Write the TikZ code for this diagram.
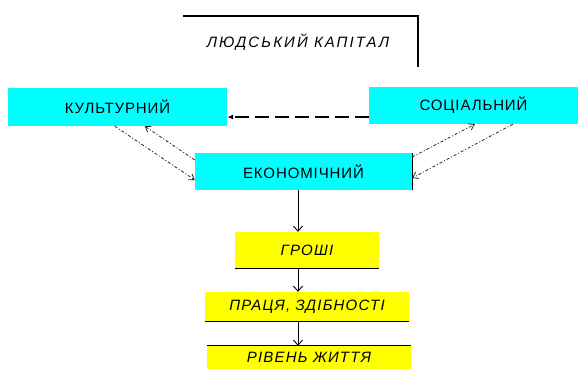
\documentclass[tikz,border=0pt]{standalone}
\usepackage{fontspec}
\setmainfont{Liberation Sans}
\usetikzlibrary{arrows.meta,calc}
\definecolor{boxcyan}{RGB}{0,255,255}
\definecolor{boxyellow}{RGB}{255,255,0}
\definecolor{linegray}{RGB}{40,40,40}
\begin{document}
\begin{tikzpicture}[x=1pt,y=-1pt,
  lbl/.style={font=\fontsize{15}{17}\selectfont\addfontfeature{LetterSpace=6}},
  cbox/.style={fill=boxcyan,draw=none,inner sep=0pt,lbl},
  ybox/.style={fill=boxyellow,draw=none,inner sep=0pt,font=\fontsize{15}{17}\selectfont\itshape\addfontfeature{LetterSpace=8}},
  down/.style={draw=black,line width=0.9pt,-{Straight Barb[length=5pt,width=9pt]}},
  dashconn/.style={draw=black,line width=1.1pt,dash pattern=on 14pt off 6pt,-{Latex[length=6pt,width=5pt]}},
  dotconn/.style={draw=linegray,line width=0.8pt,dash pattern=on 3pt off 2pt on 1pt off 2pt,-{Straight Barb[length=5pt,width=7pt]}},
  rule/.style={draw=black,line width=1.2pt}]
\useasboundingbox (0,0) rectangle (582,369);
% header
\coordinate (h1) at (183,16);
\coordinate (h2) at (418,16);
\coordinate (h3) at (418,67);
\draw[rule] (h1) -- (h2) -- (h3);
\node[font=\fontsize{15}{17}\selectfont\itshape\addfontfeature{LetterSpace=14}] (title) at (298,42) {ЛЮДСЬКИЙ КАПІТАЛ};
% boxes
\node[cbox,minimum width=219pt,minimum height=38pt] (kul) at (117.5,107) {КУЛЬТУРНИЙ};
\node[cbox,minimum width=209pt,minimum height=37pt] (soc) at (473.5,105.5) {СОЦІАЛЬНИЙ};
\node[cbox,minimum width=217pt,minimum height=37pt] (eco) at (303.5,171.5) {ЕКОНОМІЧНИЙ};
\node[ybox,minimum width=144pt,minimum height=36pt] (money) at (307,250) {ГРОШІ};
\node[ybox,minimum width=204pt,minimum height=29pt] (labor) at (307,306.5) {ПРАЦЯ, ЗДІБНОСТІ};
\node[ybox,minimum width=204pt,minimum height=23pt] (life) at (309,357.5) {РІВЕНЬ ЖИТТЯ};
% box rules
\draw[rule] (eco.north east) -- (eco.south east);
\draw[rule] (money.south west) -- (money.south east);
\draw[rule] (labor.south west) -- (labor.south east);
\draw[rule] (life.north west) -- (life.north east);
% vertical arrows
\draw[down] ([xshift=-5.5pt]eco.south) -- ([xshift=-5.5pt]eco.south |- money.north);
\draw[down] ([xshift=-9pt]money.south) -- ([xshift=-9pt]money.south |- labor.north);
\draw[down] ([xshift=-9pt]labor.south) -- ([xshift=-9pt]labor.south |- life.north);
% dashed arrow social -> cultural
\draw[dashconn] ([yshift=-11.5pt]soc.west) -- ([yshift=-11.5pt]soc.west -| kul.east);
% dotted connectors
\draw[dotconn] ($(kul.south west)+(107,0)$) -- ($(eco.west)+(0,8.5)$);
\draw[dotconn] ($(eco.west)+(0,-11.5)$) -- ($(kul.south west)+(137,0)$);
\draw[dotconn] ($(eco.east)+(0,-14.5)$) -- ($(soc.south west)+(106,0)$);
\draw[dotconn] ($(soc.south west)+(144,0)$) -- ($(eco.east)+(0,6.5)$);
\end{tikzpicture}
\end{document}
